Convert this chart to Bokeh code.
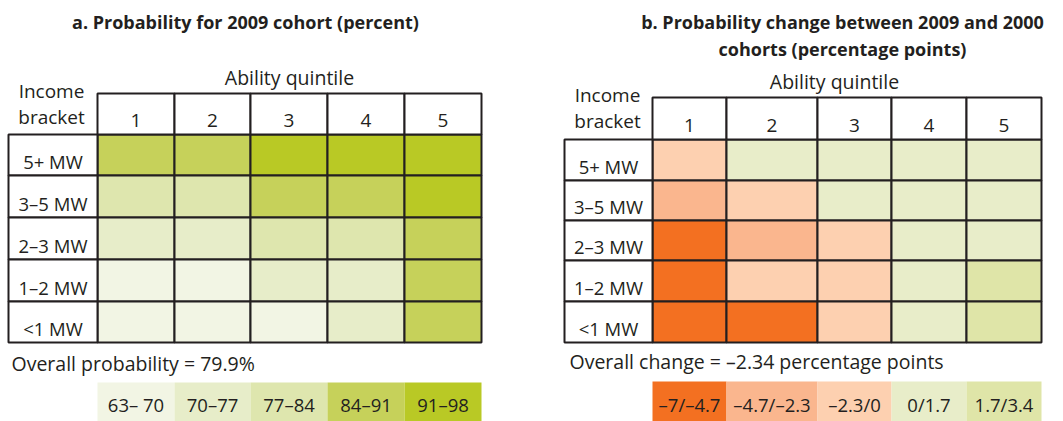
import numpy as np
from bokeh.plotting import figure
from bokeh.models import Range1d
from bokeh.core.properties import value
from bokeh.embed import file_html
from bokeh.resources import INLINE

# ---------------- data ----------------
brackets = ["5+ MW", "3–5 MW", "2–3 MW", "1–2 MW", "<1 MW"]
quintiles = ["1", "2", "3", "4", "5"]

# a. probability for 2009 cohort (percent), rows = brackets, cols = quintiles
prob_2009 = [
    [88, 87, 94, 95, 96],
    [81, 80, 88, 89, 94],
    [74, 75, 80, 82, 89],
    [67, 68, 73, 76, 87],
    [65, 66, 69, 72, 86],
]
# b. change 2009 vs 2000 (percentage points)
prob_change = [
    [-1.2, 0.6, 0.8, 0.9, 1.1],
    [-3.5, -1.0, 0.5, 0.7, 1.0],
    [-5.8, -3.3, -1.1, 0.4, 0.9],
    [-6.0, -1.5, -0.8, 0.6, 2.0],
    [-6.3, -5.2, -0.9, 0.8, 2.2],
]
prob_bins = [63, 70, 77, 84, 91, 98]
prob_labels = ["63– 70", "70–77", "77–84", "84–91", "91–98"]
change_bins = [-7, -4.7, -2.3, 0, 1.7, 3.4]
change_labels = ["–7/–4.7", "–4.7/–2.3", "–2.3/0", "0/1.7", "1.7/3.4"]
overall_prob = 79.9
overall_change = -2.34

# ---------------- styles / layout ----------------
green_pal = ["#f2f5e4", "#e7edc9", "#dee6ae", "#c6d15a", "#b9c925"]
orange_pal = ["#f37021", "#fab68e", "#fdd0b0", "#e8edc9", "#dfe5a8"]
INK = "#231f20"
FONT = value("Open Sans")
LW = 2
FIX = 7  # baseline correction

W, H = 1063, 421
p = figure(width=W, height=H, output_backend="svg", toolbar_location=None,
           x_range=Range1d(0, W), y_range=Range1d(H, 0),
           min_border=0, outline_line_color=None)
p.axis.visible = False
p.grid.visible = False
p.background_fill_color = "white"
p.border_fill_color = "white"

panels = [
    dict(values=prob_2009, bins=prob_bins, pal=green_pal, labels=prob_labels,
         cols=[97, 174, 250, 327, 404, 481], head_top=93,
         rows=[134, 175, 217, 259, 301, 342], lab_left=8,
         title=["a. Probability for 2009 cohort (percent)"], title_x=245,
         title_y=[28], aq_x=289, aq_y=84, ib_x=51, ib_y=[97, 123],
         overall="Overall probability = %.1f%%" % overall_prob, ov_x=11, ov_y=370,
         leg_top=382),
    dict(values=prob_change, bins=change_bins, pal=orange_pal, labels=change_labels,
         cols=[652, 726, 817, 891, 966, 1041], head_top=97,
         rows=[139, 180, 220, 260, 301, 342], lab_left=564,
         title=["b. Probability change between 2009 and 2000",
                "cohorts (percentage points)"], title_x=842,
         title_y=[28, 55], aq_x=834, aq_y=88, ib_x=607, ib_y=[101, 127],
         overall="Overall change = %s percentage points" % ("%.2f" % overall_change).replace("-", "–"),
         ov_x=569, ov_y=368, leg_top=381),
]

for pn in panels:
    cols, rows = pn["cols"], pn["rows"]
    vals = np.array(pn["values"], dtype=float)
    idx = np.clip(np.digitize(vals, pn["bins"][1:-1]), 0, len(pn["pal"]) - 1)

    # data cells
    L, R, T, B, C = [], [], [], [], []
    for i, br in enumerate(brackets):
        for j, q in enumerate(quintiles):
            L.append(cols[j]); R.append(cols[j + 1])
            T.append(rows[i]); B.append(rows[i + 1])
            C.append(pn["pal"][idx[i, j]])
    p.quad(left=L, right=R, top=T, bottom=B, fill_color=C,
           line_color=INK, line_width=LW)

    # header (quintile) cells
    p.quad(left=cols[:-1], right=cols[1:], top=[pn["head_top"]] * 5,
           bottom=[rows[0]] * 5, fill_color="white", line_color=INK, line_width=LW)
    p.text(x=[(cols[j] + cols[j + 1]) / 2 for j in range(5)],
           y=[rows[0] - 7 - FIX] * 5, text=quintiles, text_font=FONT,
           text_font_size="19px", text_color=INK, text_align="center",
           text_baseline="alphabetic")

    # row label cells
    p.quad(left=[pn["lab_left"]] * 5, right=[cols[0]] * 5, top=rows[:-1],
           bottom=rows[1:], fill_color="white", line_color=INK, line_width=LW)
    p.text(x=[(pn["lab_left"] + cols[0]) / 2] * 5,
           y=[rows[i + 1] - 7 - FIX for i in range(5)], text=brackets, text_font=FONT,
           text_font_size="18.5px", text_color=INK, text_align="center",
           text_baseline="alphabetic")

    # titles
    p.text(x=[pn["title_x"]] * len(pn["title"]), y=[v - FIX for v in pn["title_y"]],
           text=pn["title"], text_font=FONT, text_font_style="bold",
           text_font_size="18px", text_color=INK, text_align="center",
           text_baseline="alphabetic")
    p.text(x=[pn["aq_x"]], y=[pn["aq_y"] - FIX], text=["Ability quintile"],
           text_font=FONT, text_font_size="19.5px", text_color=INK,
           text_align="center", text_baseline="alphabetic")
    p.text(x=[pn["ib_x"]] * 2, y=[v - FIX for v in pn["ib_y"]],
           text=["Income", "bracket"], text_font=FONT, text_font_size="19px",
           text_color=INK, text_align="center", text_baseline="alphabetic")
    p.text(x=[pn["ov_x"]], y=[pn["ov_y"] - FIX], text=[pn["overall"]],
           text_font=FONT, text_font_size="19.5px", text_color=INK,
           text_align="left", text_baseline="alphabetic")

    # legend
    p.quad(left=cols[:-1], right=cols[1:], top=[pn["leg_top"]] * 5,
           bottom=[H] * 5, fill_color=pn["pal"], line_color=None)
    p.text(x=[(cols[j] + cols[j + 1]) / 2 for j in range(5)], y=[411 - FIX] * 5,
           text=pn["labels"], text_font=FONT, text_font_size="18.5px",
           text_color=INK, text_align="center", text_baseline="alphabetic")

open("out.html", "w").write(file_html(p, INLINE))
